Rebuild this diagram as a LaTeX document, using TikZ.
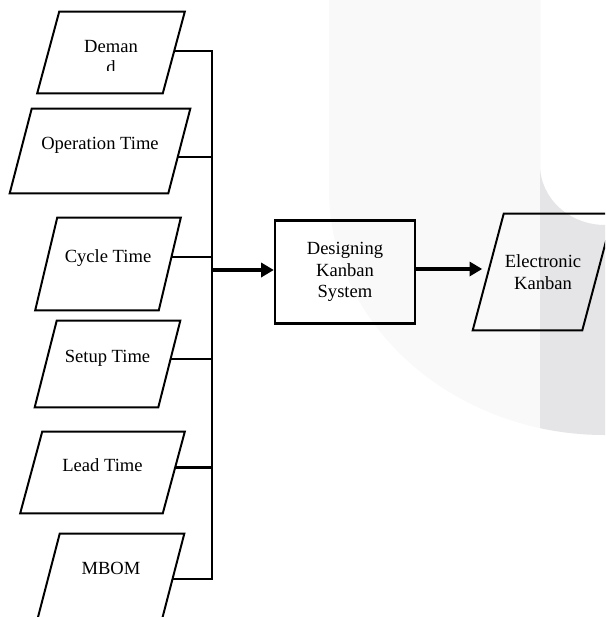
\documentclass[tikz,border=0pt]{standalone}
\usepackage{fontspec}
\setmainfont{Liberation Serif}
\usetikzlibrary{arrows.meta}
\definecolor{wmlight}{RGB}{249,249,249}
\definecolor{wmdark}{RGB}{229,229,231}
\begin{document}
\begin{tikzpicture}[x=.025cm, y=-.025cm, >={Triangle[length=9pt,width=10pt]},
  font=\fontsize{13.2}{15.2}\selectfont,
  inbox/.style={inner sep=0pt, text height=9pt, text depth=11pt},
  frame/.style={line width=1.4pt, line join=miter},
  box/.style={draw, line width=1.7pt, inner sep=0pt, align=center},
  link/.style={line width=2.1pt},
  flow/.style={->, line width=2.2pt}]
\useasboundingbox (0,0) rectangle (605,617);
\clip (0,0) rectangle (605,617);
\fill[wmlight] (329,0)--(329,190) .. controls (329,325) and (453,435) .. (605,435)--(605,225)
  .. controls (569,225) and (540,198) .. (540,165)--(540,0)--cycle;
\begin{scope}
\clip (540,0) rectangle (605,617);
\fill[wmdark] (329,0)--(329,190) .. controls (329,325) and (453,435) .. (605,435)--(605,225)
  .. controls (569,225) and (540,198) .. (540,165)--(540,0)--cycle;
\end{scope}
\node[inner sep=0pt, minimum width=3.125cm, minimum height=2.025cm] (dem) at (111,52.5) {};
\begin{scope}
\clip (0,0) rectangle (605,71);
\node[align=center, inner sep=0pt] (demtxt) at (111,57) {Deman\\d};
\end{scope}
\node[inbox, minimum width=3.95cm, minimum height=2.1cm] (op) at (100,151) {Operation Time};
\node[inbox, minimum width=3.075cm, minimum height=2.3cm] (cyc) at (108,264) {Cycle Time};
\node[inbox, minimum width=3.075cm, minimum height=2.15cm] (setup) at (107.5,364) {Setup Time};
\node[inbox, minimum width=3.55cm, minimum height=2.025cm] (lead) at (102.5,472.5) {Lead Time};
\node[inbox, minimum width=3.1cm, minimum height=2.1cm] (mbom) at (111,576) {MBOM};
\foreach \n in {dem,op,cyc,setup,lead,mbom}
  \draw[frame] ([xshift=.275cm]\n.north west) -- ([xshift=.275cm]\n.north east)
    -- ([xshift=-.275cm]\n.south east) -- ([xshift=-.275cm]\n.south west) -- cycle;
\node[box, minimum width=3.5cm, minimum height=2.575cm] (design) at (345,272) {Designing\\Kanban\\System};
\node[align=center, inner sep=0pt, minimum width=2.725cm, minimum height=2.9cm] (ekan) at (543,272) {Electronic\\Kanban};
\draw[frame] ([xshift=.3875cm]ekan.north west) -- ([xshift=.3875cm]ekan.north east)
  -- ([xshift=-.3875cm]ekan.south east) -- ([xshift=-.3875cm]ekan.south west) -- cycle;
\coordinate (bus) at (212,270);
\draw[link] ([shift={(.4,-1.5)}]dem.east) -| (bus) |- ([shift={(-.8,3)}]mbom.east);
\draw[link] ([shift={(-1.6,6)}]op.east) coordinate (opj) -- (opj -| bus);
\draw[link] ([shift={(1.8,-7)}]cyc.east) coordinate (cycj) -- (cycj -| bus);
\draw[link] ([shift={(1.3,-5)}]setup.east) coordinate (setupj) -- (setupj -| bus);
\draw[link] ([shift={(1.3,-5)}]lead.east) coordinate (leadj) -- (leadj -| bus);
\draw[flow] (bus) -- (bus -| design.west);
\draw[flow] ([shift={(0,-3)}]design.east) coordinate (dj) -- ([xshift=-.15cm]dj -| ekan.west);
\end{tikzpicture}
\end{document}
